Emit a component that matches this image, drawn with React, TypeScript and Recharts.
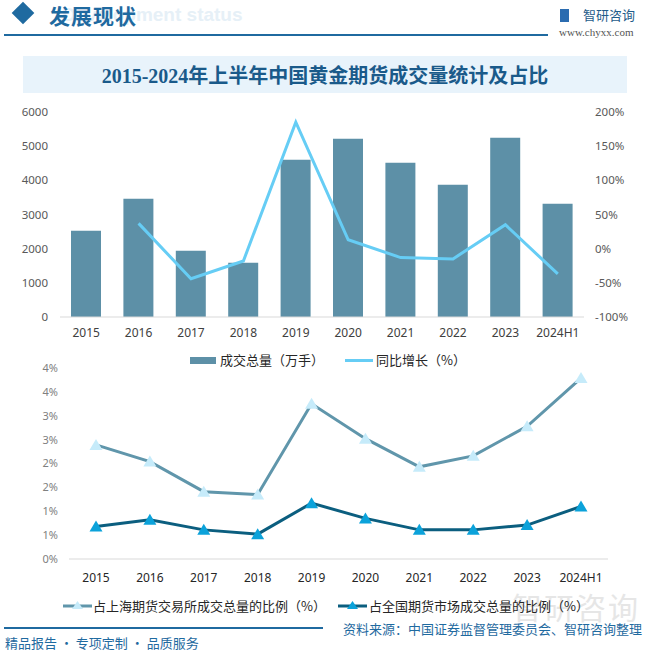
import React from "react";
import {
  Bar,
  ComposedChart,
  Line,
  LineChart,
  XAxis,
  YAxis,
} from "recharts";

const years = ["2015", "2016", "2017", "2018", "2019", "2020", "2021", "2022", "2023", "2024H1"];
// 成交总量（万手）
const volume = [2526, 3462, 1940, 1590, 4604, 5219, 4516, 3872, 5248, 3316];
// 同比增长（%）
const growth = [null, 37, -44, -18, 185, 13, -13, -15, 35, -37];
// 占上海期货交易所成交总量的比例（%）
const shfeShare = [2.39, 2.04, 1.41, 1.35, 3.25, 2.52, 1.93, 2.16, 2.78, 3.79];
// 占全国期货市场成交总量的比例（%）
const nationalShare = [0.68, 0.82, 0.61, 0.52, 1.17, 0.85, 0.61, 0.61, 0.71, 1.1];

const volumeTicks = [0, 1000, 2000, 3000, 4000, 5000, 6000];
const growthTicks = [-100, -50, 0, 50, 100, 150, 200];
const shareTicks = [0, 0.5, 1, 1.5, 2, 2.5, 3, 3.5, 4];

const topData = years.map((y, i) => ({ year: y, volume: volume[i], growth: growth[i] }));
const bottomData = years.map((y, i) => ({
  year: y,
  shfe: shfeShare[i],
  national: nationalShare[i],
}));

const SANS = "'Noto Sans', 'Noto Sans CJK SC', sans-serif";
const CJK = "'Noto Sans CJK SC', sans-serif";
const DARK_BLUE = "#1f6aa0";

const triangle = (fill: string) => (props: any) => {
  const { cx, cy, index } = props;
  if (cx == null || cy == null) return <g key={index} />;
  return (
    <polygon
      key={index}
      points={`${cx},${cy - 6} ${cx - 6.5},${cy + 5} ${cx + 6.5},${cy + 5}`}
      fill={fill}
    />
  );
};

const abs = (s: React.CSSProperties): React.CSSProperties => ({ position: "absolute", ...s });

export default function App() {
  return (
    <div
      style={{
        position: "absolute",
        left: 0,
        top: 0,
        width: 656,
        height: 654,
        background: "#fff",
        overflow: "hidden",
        fontFamily: CJK,
      }}
    >
      {/* header */}
      <div
        style={abs({
          left: 15,
          top: 5,
          width: 16,
          height: 16,
          background: "#1f6aa0",
          transform: "rotate(45deg)",
        })}
      />
      <div
        style={abs({
          left: 62,
          top: 4,
          fontFamily: "'Liberation Sans', sans-serif",
          fontWeight: 700,
          fontSize: 19,
          color: "#e6f0f7",
          whiteSpace: "nowrap",
        })}
      >
        Development status
      </div>
      <div
        style={abs({
          left: 49,
          top: 0,
          fontSize: 21,
          fontWeight: 700,
          color: DARK_BLUE,
          lineHeight: "30px",
          letterSpacing: 1,
        })}
      >
        发展现状
      </div>
      <div style={abs({ left: 4, top: 34, width: 544, height: 2, background: "#1f6aa0" })} />
      <div style={abs({ left: 560, top: 9, width: 9, height: 13, background: "#2b6cb0" })} />
      <div
        style={abs({
          left: 583,
          top: 5,
          fontSize: 13,
          color: "#1f5c8a",
          lineHeight: "20px",
          whiteSpace: "nowrap",
        })}
      >
        智研咨询
      </div>
      <div
        style={abs({
          left: 559,
          top: 26,
          fontSize: 11,
          fontFamily: "'Liberation Serif', serif",
          color: "#555",
          whiteSpace: "nowrap",
        })}
      >
        www.chyxx.com
      </div>

      {/* title band */}
      <div
        style={abs({
          left: 23,
          top: 56,
          width: 604,
          height: 37,
          background: "#e8f3fb",
          display: "flex",
          alignItems: "center",
          justifyContent: "center",
          fontFamily: "'Liberation Serif', 'Noto Sans CJK SC', serif",
          fontWeight: 700,
          fontSize: 20,
          color: "#1a5a8a",
          whiteSpace: "nowrap",
        })}
      >
        2015-2024年上半年中国黄金期货成交量统计及占比
      </div>

      {/* top chart */}
      <div style={abs({ left: 0, top: 100 })}>
        <ComposedChart
          width={656}
          height={250}
          data={topData}
          margin={{ top: 12, right: 0, bottom: 3, left: 0 }}
          barCategoryGap="43%"
        >
          <XAxis
            dataKey="year"
            height={30}
            tickLine={false}
            tickSize={0}
            tickMargin={11}
            axisLine={{ stroke: "#d9d9d9" }}
            tick={{ fontSize: 12, fill: "#404040", fontFamily: SANS }}
            interval={0}
          />
          <YAxis
            yAxisId="left"
            width={60}
            domain={[0, 6000]}
            ticks={volumeTicks}
            axisLine={false}
            tickLine={false}
            tickSize={0}
            tickMargin={12}
            tick={{ fontSize: 11.5, fill: "#595959", fontFamily: SANS }}
          />
          <YAxis
            yAxisId="right"
            orientation="right"
            width={72}
            domain={[-100, 200]}
            ticks={growthTicks}
            axisLine={false}
            tickLine={false}
            tickSize={0}
            tickMargin={11}
            tickFormatter={(v) => `${v}%`}
            tick={{ fontSize: 11.5, fill: "#595959", fontFamily: SANS, textAnchor: "start" }}
          />
          <Bar
            yAxisId="left"
            dataKey="volume"
            fill="#5d90a7"
            barSize={30}
            isAnimationActive={false}
          />
          <Line
            yAxisId="right"
            dataKey="growth"
            type="linear"
            stroke="#66cdf5"
            strokeWidth={3}
            dot={false}
            isAnimationActive={false}
          />
        </ComposedChart>
      </div>

      {/* top legend */}
      <div style={abs({ left: 190, top: 357, width: 26, height: 7, background: "#5d90a7" })} />
      <div style={abs({ left: 220, top: 351, fontSize: 13, color: "#262626", lineHeight: "18px", whiteSpace: "nowrap" })}>
        成交总量（万手）
      </div>
      <div style={abs({ left: 345, top: 359, width: 28, height: 3, background: "#66cdf5" })} />
      <div style={abs({ left: 376, top: 351, fontSize: 13, color: "#262626", lineHeight: "18px", whiteSpace: "nowrap" })}>
        同比增长（%）
      </div>

      {/* bottom chart */}
      <div style={abs({ left: 0, top: 360 })}>
        <LineChart
          width={656}
          height={232}
          data={bottomData}
          margin={{ top: 8, right: 48, bottom: 3, left: 0 }}
        >
          <XAxis
            dataKey="year"
            height={30}
            padding={{ left: 27, right: 27 }}
            tickLine={false}
            tickSize={0}
            tickMargin={14}
            axisLine={{ stroke: "#d9d9d9" }}
            tick={{ fontSize: 12, fill: "#262626", fontFamily: SANS }}
            interval={0}
          />
          <YAxis
            width={69}
            domain={[0, 4]}
            ticks={shareTicks}
            axisLine={false}
            tickLine={false}
            tickSize={0}
            tickMargin={11}
            tickFormatter={(v) => `${Math.round(v)}%`}
            tick={{ fontSize: 11, fill: "#808080", fontFamily: SANS }}
          />
          <Line
            dataKey="shfe"
            type="linear"
            stroke="#6096ab"
            strokeWidth={3}
            dot={triangle("#c6ebfa")}
            activeDot={false}
            isAnimationActive={false}
          />
          <Line
            dataKey="national"
            type="linear"
            stroke="#0b5e7f"
            strokeWidth={3}
            dot={triangle("#0ba2da")}
            activeDot={false}
            isAnimationActive={false}
          />
        </LineChart>
      </div>

      {/* watermark */}
      <div
        style={abs({
          left: 512,
          top: 590,
          fontSize: 30,
          color: "#e6e6e6",
          lineHeight: "32px",
          whiteSpace: "nowrap",
          letterSpacing: 2,
        })}
      >
        智研咨询
      </div>

      {/* bottom legend */}
      <svg style={abs({ left: 62, top: 599 })} width={32} height={14}>
        <line x1={1} y1={7} x2={30} y2={7} stroke="#6096ab" strokeWidth={3} />
        <polygon points="15.5,2 10,10 21,10" fill="#c6ebfa" />
      </svg>
      <div style={abs({ left: 93, top: 597, fontSize: 13, color: "#262626", lineHeight: "18px", whiteSpace: "nowrap" })}>
        占上海期货交易所成交总量的比例（%）
      </div>
      <svg style={abs({ left: 337, top: 599 })} width={32} height={14}>
        <line x1={1} y1={7} x2={30} y2={7} stroke="#0b5e7f" strokeWidth={3} />
        <polygon points="15.5,2 10,10 21,10" fill="#0ba2da" />
      </svg>
      <div style={abs({ left: 369, top: 597, fontSize: 13, color: "#262626", lineHeight: "18px", whiteSpace: "nowrap" })}>
        占全国期货市场成交总量的比例（%）
      </div>

      {/* footer */}
      <div style={abs({ left: 4, top: 627, width: 319, height: 2, background: "#1f6aa0" })} />
      <div style={abs({ left: 5, top: 634, fontSize: 13, color: DARK_BLUE, lineHeight: "18px", whiteSpace: "nowrap" })}>
        精品报告 · 专项定制 · 品质服务
      </div>
      <div style={abs({ left: 343, top: 620, fontSize: 13, color: DARK_BLUE, lineHeight: "18px", whiteSpace: "nowrap" })}>
        资料来源：中国证券监督管理委员会、智研咨询整理
      </div>
    </div>
  );
}
